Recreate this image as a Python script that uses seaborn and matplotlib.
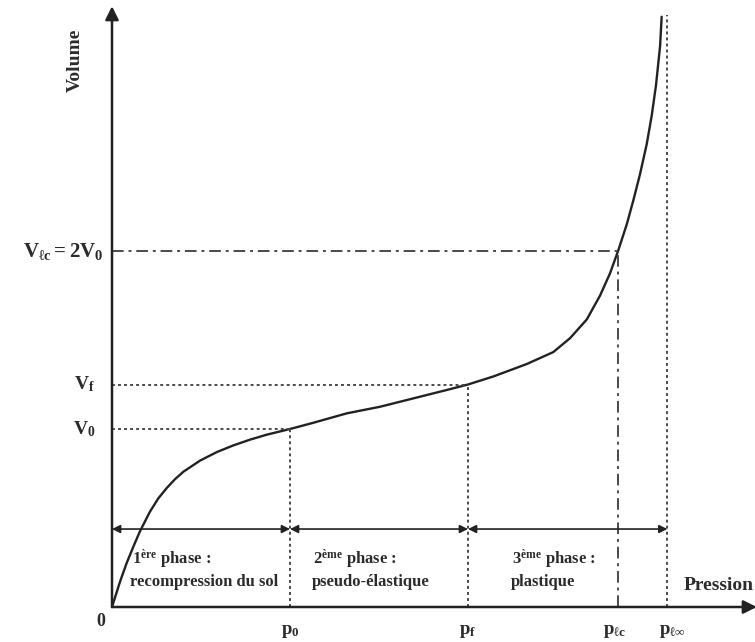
import matplotlib
matplotlib.use("Agg")
import matplotlib.pyplot as plt
import seaborn as sns
import pandas as pd

# Pressiometric curve: volume versus pressure (normalised units, p0 = 1, V0 = 1)
pression = [0, 0.045, 0.082, 0.120, 0.157, 0.213, 0.260, 0.307, 0.354, 0.401,
            0.494, 0.588, 0.682, 0.775, 0.869, 1.0, 1.131, 1.319, 1.506, 1.693,
            1.880, 2.0, 2.142, 2.330, 2.479, 2.573, 2.667, 2.742, 2.798, 2.843,
            2.892, 2.929, 2.966, 3.004, 3.032, 3.056, 3.079, 3.088]
volume = [0, 0.142, 0.246, 0.339, 0.425, 0.535, 0.610, 0.668, 0.718, 0.760,
          0.822, 0.870, 0.908, 0.940, 0.968, 1.0, 1.035, 1.088, 1.125, 1.172,
          1.219, 1.25, 1.295, 1.365, 1.432, 1.510, 1.615, 1.750, 1.875, 2.0,
          2.150, 2.285, 2.430, 2.600, 2.760, 2.930, 3.150, 3.316]

# Characteristic pressures and volumes
p_marks = {"p0": 1.0, "pf": 2.0, "plc": 2.843, "plinf": 3.12}
v_marks = {"V0": 1.0, "Vf": 1.25, "Vlc": 2.0}
p_labels = [r"$\mathrm{p}_0$", r"$\mathrm{p}_{\mathrm{f}}$",
            r"$\mathrm{p}_{\ell\mathrm{c}}$", r"$\mathrm{p}_{\ell\infty}$"]
v_labels = [r"$\mathrm{V}_0$", r"$\mathrm{V}_{\mathrm{f}}$",
            r"$\mathrm{V}_{\ell\mathrm{c}} = 2\mathrm{V}_0$"]
phase_title = [r"1$^{\mathrm{ère}}$ phase :", r"2$^{\mathrm{ème}}$ phase :",
               r"3$^{\mathrm{ème}}$ phase :"]
phase_name = ["recompression du sol", "pseudo-élastique", "plastique"]

sns.set_theme(style="white")
plt.rcParams["font.family"] = ["Liberation Serif", "DejaVu Serif"]
plt.rcParams["font.weight"] = "bold"
plt.rcParams["mathtext.fontset"] = "custom"
plt.rcParams["mathtext.rm"] = "Liberation Serif:bold"
plt.rcParams["mathtext.it"] = "Liberation Serif:italic:bold"
plt.rcParams["mathtext.bf"] = "Liberation Serif:bold"
plt.rcParams["mathtext.default"] = "rm"

W, H = 755, 642
fig = plt.figure(figsize=(W / 100, H / 100), dpi=100)
ax = fig.add_axes([112 / W, 35 / H, 643 / W, 599 / H])
ax.set_xlim(0, 643 / 178)
ax.set_ylim(0, 599 / 178)
for s in ax.spines.values():
    s.set_visible(False)
ax.set_xticks([])
ax.set_yticks([])

ink = "#222222"
grey = "#4a4a4a"

df = pd.DataFrame({"Pression": pression, "Volume": volume})
sns.lineplot(data=df, x="Pression", y="Volume", sort=False, estimator=None,
             color=ink, lw=1.7, ax=ax, clip_on=False)
ax.lines[-1].set_solid_joinstyle("round")
ax.set_xlabel("")
ax.set_ylabel("")

# Axes with arrow heads
ax.annotate("", xy=(0, 599 / 178 + 0.01), xytext=(0, 0),
            arrowprops=dict(arrowstyle="-|>", color=ink, lw=1.8,
                            mutation_scale=20, shrinkA=0, shrinkB=0),
            annotation_clip=False)
ax.annotate("", xy=(643 / 178 + 0.01, 0), xytext=(0, 0),
            arrowprops=dict(arrowstyle="-|>", color=ink, lw=1.8,
                            mutation_scale=20, shrinkA=0, shrinkB=0),
            annotation_clip=False)

dots = (0, (1.5, 1.6))
dashdot = (0, (6, 2.5, 1.5, 2.5))
p0, pf, plc, plinf = (p_marks[k] for k in ("p0", "pf", "plc", "plinf"))
V0, Vf, Vlc = (v_marks[k] for k in ("V0", "Vf", "Vlc"))

# Guide lines
ax.plot([0, p0], [V0, V0], color=grey, lw=1.4, ls=dots)
ax.plot([p0, p0], [0, V0], color=grey, lw=1.4, ls=dots)
ax.plot([0, pf], [Vf, Vf], color=grey, lw=1.4, ls=dots)
ax.plot([pf, pf], [0, Vf], color=grey, lw=1.4, ls=dots)
ax.plot([0, plc], [Vlc, Vlc], color=grey, lw=1.4, ls=dashdot)
ax.plot([plc, plc], [0, Vlc], color=grey, lw=1.4, ls=dashdot)
ax.plot([plinf, plinf], [0, volume[-1] + 0.01], color=grey, lw=1.4, ls=dots)

# Phase extents
y_arr = 0.438
bounds = [0, p0, pf, plinf]
for a, b in zip(bounds[:-1], bounds[1:]):
    ax.annotate("", xy=(b, y_arr), xytext=(a, y_arr),
                arrowprops=dict(arrowstyle="<|-|>", color=ink, lw=1.2,
                                mutation_scale=12, shrinkA=0, shrinkB=0))

# Phase descriptions
tc = "#2b2b2b"
starts = [0.11, 1.13, 2.25]
for x0, title, name in zip(starts, phase_title, phase_name):
    ax.text(x0, 0.24, title, fontsize=12, color=tc, ha="left", va="baseline")
    ax.text(x0 - 0.01, 0.12, name, fontsize=12, color=tc, ha="left",
            va="baseline")

# Axis titles
ax.text(-0.208, 3.07, "Volume", rotation=90, fontsize=14, color=tc,
        ha="center", va="center")
ax.text(3.605, 0.12, "Pression", fontsize=14, color=tc, ha="right",
        va="center")
ax.text(-0.062, -0.084, "0", fontsize=13, color=tc, ha="center",
        va="center")

# Tick-like labels
for xv, lab in zip([p0, pf, plc - 0.02, plinf + 0.03], p_labels):
    ax.text(xv, -0.135, lab, fontsize=13.5, color=tc, ha="center",
            va="center")
ax.text(-0.095, V0, v_labels[0], fontsize=14, color=tc, ha="right",
        va="center")
ax.text(-0.095, Vf, v_labels[1], fontsize=14, color=tc, ha="right",
        va="center")
ax.text(-0.05, Vlc, v_labels[2], fontsize=15, color=tc, ha="right",
        va="center")

fig.savefig("out.png", dpi=100)
